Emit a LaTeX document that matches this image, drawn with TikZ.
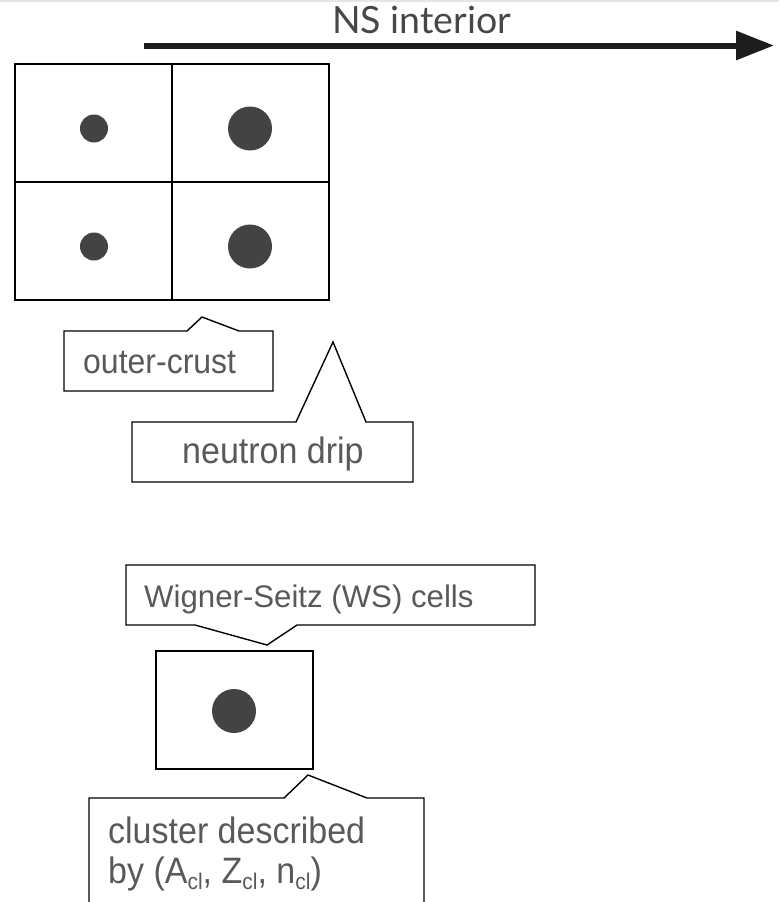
\documentclass[tikz,border=0pt]{standalone}
\usepackage{fontspec}
\setmainfont{Liberation Sans}
\newfontfamily\latofont{Lato}
\usetikzlibrary{arrows.meta}
\definecolor{txtc}{HTML}{595959}
\definecolor{dotc}{HTML}{434343}
\definecolor{arrc}{HTML}{1C1C1C}
\newcommand{\clsub}{\raisebox{-6pt}{\fontsize{21}{21}\selectfont cl}}
\newcommand{\vstretch}[1]{\scalebox{1}[1.08]{#1}}
\begin{document}
\begin{tikzpicture}[x=1pt,y=-1pt,line join=miter,
  cellbox/.style={draw=black,line width=1.4pt,minimum width=157pt,minimum height=118pt,inner sep=0pt,outer sep=0pt},
  smalldot/.style={circle,fill=dotc,minimum size=28pt,inner sep=0pt},
  bigdot/.style={circle,fill=dotc,minimum size=44pt,inner sep=0pt},
  callout/.style={draw=black,line width=1.4pt},
  lbl/.style={anchor=base west,inner sep=0pt,text=txtc}]
\useasboundingbox (0,0) rectangle (779,902);
\draw[black!10,line width=1.5pt] (0,0.75) -- (779,0.75);
% title and arrow
\node[anchor=base west,inner sep=0pt,text=black!72,font=\latofont\fontsize{37.5}{40}\selectfont] (title) at (332,33) {NS interior};
\coordinate (arrS) at (144,45.5);
\coordinate (arrE) at (774,45.5);
\draw[arrc,line width=6pt,-{Triangle[length=38pt,width=28pt]}] (arrS) -- (arrE);
% grid of cells
\node[cellbox] (c11) at (93.5,123) {};
\node[cellbox] (c12) at (250.5,123) {};
\node[cellbox] (c21) at (93.5,241) {};
\node[cellbox] (c22) at (250.5,241) {};
\node[smalldot] (d11) at (94,128.5) {};
\node[bigdot] (d12) at (250,128.5) {};
\node[smalldot] (d21) at (94,246.5) {};
\node[bigdot] (d22) at (250,246.5) {};
% outer-crust callout
\draw[callout] (187,331) -- (202,317) -- (239,331) -- (273,331) -- (273,391) -- (64,391) -- (64,331) -- cycle;
\node[lbl,font=\fontsize{32}{40}\selectfont] (oc) at (83,373) {\vstretch{outer-crust}};
% neutron drip callout
\draw[callout] (296,422) -- (333,342) -- (366,422) -- (413,422) -- (413,482) -- (132,482) -- (132,422) -- cycle;
\node[lbl,font=\fontsize{34}{40}\selectfont] (nd) at (182,463) {\vstretch{neutron drip}};
% WS callout
\draw[callout] (126,565) -- (535,565) -- (535,625) -- (297,625) -- (267,645) -- (195,625) -- (126,625) -- cycle;
\node[lbl,font=\fontsize{31.2}{40}\selectfont] (ws) at (144,607) {Wigner-Seitz (WS) cells};
% single cell
\node[cellbox] (cell) at (234.5,710) {};
\node[bigdot] (dcell) at (234,711) {};
% cluster callout
\draw[callout] (89,910) -- (89,798) -- (284,798) -- (308,775) -- (367,798) -- (424,798) -- (424,910);
\node[lbl,font=\fontsize{34}{40}\selectfont] (cl1) at (108,843) {\vstretch{cluster described}};
\node[lbl,font=\fontsize{34}{40}\selectfont] (cl2) at (108,883) {\vstretch{by (A\clsub, Z\clsub, n\clsub)}};
\end{tikzpicture}
\end{document}
